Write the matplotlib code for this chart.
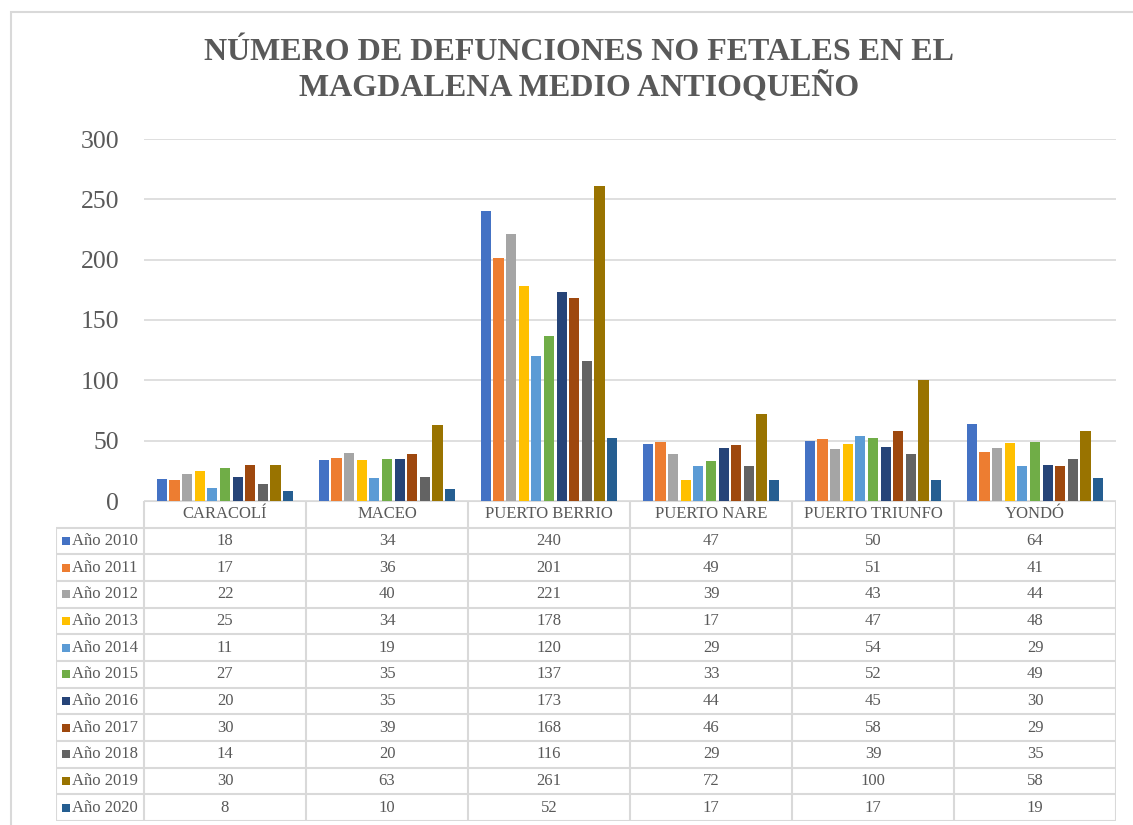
import matplotlib
matplotlib.use("Agg")
import matplotlib.pyplot as plt
from matplotlib.patches import Rectangle

municipios = ["CARACOLÍ", "MACEO", "PUERTO BERRIO", "PUERTO NARE", "PUERTO TRIUNFO", "YONDÓ"]
years = ["Año 2010", "Año 2011", "Año 2012", "Año 2013", "Año 2014", "Año 2015",
         "Año 2016", "Año 2017", "Año 2018", "Año 2019", "Año 2020"]
y2010 = [18, 34, 240, 47, 50, 64]
y2011 = [17, 36, 201, 49, 51, 41]
y2012 = [22, 40, 221, 39, 43, 44]
y2013 = [25, 34, 178, 17, 47, 48]
y2014 = [11, 19, 120, 29, 54, 29]
y2015 = [27, 35, 137, 33, 52, 49]
y2016 = [20, 35, 173, 44, 45, 30]
y2017 = [30, 39, 168, 46, 58, 29]
y2018 = [14, 20, 116, 29, 39, 35]
y2019 = [30, 63, 261, 72, 100, 58]
y2020 = [8, 10, 52, 17, 17, 19]
series = [y2010, y2011, y2012, y2013, y2014, y2015, y2016, y2017, y2018, y2019, y2020]

colors = ["#4472C4", "#ED7D31", "#A5A5A5", "#FFC000", "#5B9BD5", "#70AD47",
          "#264478", "#9E480E", "#636363", "#997300", "#255E91"]
text_c = "#595959"
grid_c = "#D9D9D9"

plt.rcParams["font.family"] = ["Liberation Serif", "DejaVu Serif"]

W, H = 1133, 825
fig = plt.figure(figsize=(W / 100, H / 100), dpi=100)

# outer chart border
fig.patches.append(Rectangle((11 / W, -0.1), 1.2, 1 - 12 / H + 0.1, transform=fig.transFigure,
                             fill=False, edgecolor=grid_c, linewidth=1.5))

fig.text(579 / W, 1 - 70 / H, "NÚMERO DE DEFUNCIONES NO FETALES EN EL\nMAGDALENA MEDIO ANTIOQUEÑO",
         ha="center", va="center", fontsize=23, fontweight="bold", color=text_c, linespacing=1.15)

# bar chart
ax = fig.add_axes([144 / W, 1 - 501 / H, (1116 - 144) / W, (501 - 139) / H])
n = len(series)
slot = (139 / 162) / n
for i, vals in enumerate(series):
    xs = [j + (i - (n - 1) / 2) * slot for j in range(len(municipios))]
    ax.bar(xs, vals, width=slot * 0.8, color=colors[i], zorder=3)

ax.set_xlim(-0.5, len(municipios) - 0.5)
ax.set_ylim(0, 300)
ax.set_yticks(range(0, 301, 50))
ax.set_xticks([])
ax.grid(axis="y", color=grid_c, linewidth=1.2, zorder=0)
ax.tick_params(axis="y", length=0, pad=18, labelsize=18.5, labelcolor=text_c)
for s in ax.spines.values():
    s.set_visible(False)

# data table below the plot
left = -0.5 - 88 / 162
tab = fig.add_axes([56 / W, 1 - 821 / H, (1116 - 56) / W, (821 - 501) / H])
tab.set_xlim(left, len(municipios) - 0.5)
tab.set_ylim(n, -1)
tab.axis("off")

lw = 1.5
tab.hlines(-1, -0.5, len(municipios) - 0.5, color=grid_c, linewidth=lw)
tab.hlines(range(0, n + 1), left, len(municipios) - 0.5, color=grid_c, linewidth=lw)
tab.vlines([j - 0.5 for j in range(len(municipios) + 1)], -1, n, color=grid_c, linewidth=lw)
tab.vlines(left, 0, n, color=grid_c, linewidth=lw)

for j, m in enumerate(municipios):
    tab.text(j, -0.5, m, ha="center", va="center", fontsize=12, color=text_c)
for i, vals in enumerate(series):
    tab.scatter(left + 10 / 162, i + 0.5, marker="s", s=26, color=colors[i], linewidths=0)
    tab.text(left + 16 / 162, i + 0.5, years[i], ha="left", va="center", fontsize=12, color=text_c)
    for j, v in enumerate(vals):
        tab.text(j, i + 0.5, str(v), ha="center", va="center", fontsize=12, color=text_c)

fig.savefig("out.png", dpi=100)
